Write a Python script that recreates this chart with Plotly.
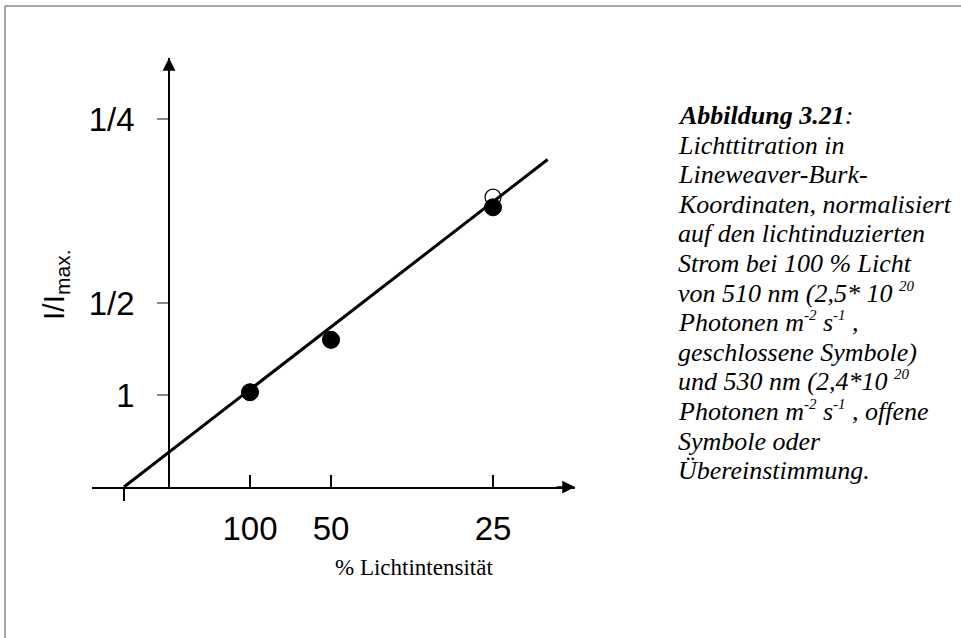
import plotly.graph_objects as go

# ---------------- data ----------------
intensity_pct = [100, 50, 25]                # % Lichtintensität
x_tick_labels = ["100", "50", "25"]
inv_current_closed = [1.03, 1.60, 3.04]     # 1/(I/Imax), 510 nm, closed symbols
inv_current_open = [1.03, 1.60, 3.15]       # 1/(I/Imax), 530 nm, open symbols
y_tick_vals = [1, 2, 4]
y_tick_labels = ["1", "1/2", "1/4"]
fit_x = [-0.556, 4.675]                     # drawn regression line end points
fit_y = [0.0, 3.56]


def sup(t):
    return '<sup><span style="font-size:15px">' + t + '</span></sup>'


caption_lines = [
    "<b><i>Abbildung 3.21</i></b><i>:</i>",
    "<i>Lichttitration in</i>",
    "<i>Lineweaver-Burk-</i>",
    "<i>Koordinaten, normalisiert</i>",
    "<i>auf den lichtinduzierten</i>",
    "<i>Strom bei 100 % Licht</i>",
    "<i>von 510 nm (2,5* 10 " + sup("20") + "</i>",
    "<i>Photonen m" + sup("-2") + " s" + sup("-1") + " ,</i>",
    "<i>geschlossene Symbole)</i>",
    "<i>und 530 nm (2,4*10 " + sup("20") + "</i>",
    "<i>Photonen m" + sup("-2") + " s" + sup("-1") + " , offene</i>",
    "<i>Symbole oder</i>",
    "<i>Übereinstimmung.</i>",
]

# x in Lineweaver-Burk units: 1 / (relative light intensity)
x_vals = [100.0 / p for p in intensity_pct]

# ---------------- layout geometry ----------------
W, H = 961, 638
ML, MR, MT, MB = 92, 386, 58, 151
PW, PH = W - ML - MR, H - MT - MB
X_RANGE = [-0.9506, 5.0123]
Y_RANGE = [0.0, 4.663]
y_axis_pos = (0 - X_RANGE[0]) / (X_RANGE[1] - X_RANGE[0])


def px_to_paper_x(px):
    return (px - ML) / PW


def px_to_paper_y(py):
    return (H - MB - py) / PH


SANS = "Liberation Sans, Arial, sans-serif"
SERIF = "Liberation Serif, Times New Roman, serif"

fig = go.Figure()

fig.add_trace(go.Scatter(
    x=fit_x, y=fit_y, mode="lines",
    line=dict(color="black", width=3),
    showlegend=False, hoverinfo="skip", cliponaxis=False,
))
fig.add_trace(go.Scatter(
    x=x_vals, y=inv_current_open, mode="markers",
    marker=dict(size=16, color="rgba(255,255,255,0)", line=dict(color="black", width=1.2)),
    showlegend=False, cliponaxis=False,
))
fig.add_trace(go.Scatter(
    x=x_vals, y=inv_current_closed, mode="markers",
    marker=dict(size=17, color="black", line=dict(color="black", width=1)),
    showlegend=False, cliponaxis=False,
))

annotations = []
# arrow heads on the axes
annotations.append(dict(x=X_RANGE[1], y=0, xref="x", yref="y", ax=-20, ay=0,
                        text="", showarrow=True, arrowhead=2, arrowsize=1.7,
                        arrowwidth=1.5, arrowcolor="black"))
annotations.append(dict(x=0, y=Y_RANGE[1], xref="x", yref="y", ax=0, ay=20,
                        text="", showarrow=True, arrowhead=2, arrowsize=1.7,
                        arrowwidth=1.5, arrowcolor="black"))
# y axis title
annotations.append(dict(x=px_to_paper_x(55), y=px_to_paper_y(285), xref="paper", yref="paper",
                        text="I/I<sub>max.</sub>", textangle=-90, showarrow=False,
                        xanchor="center", yanchor="middle",
                        font=dict(family=SANS, size=30, color="black")))
# x axis title
annotations.append(dict(x=px_to_paper_x(414), y=px_to_paper_y(567), xref="paper", yref="paper",
                        text="% Lichtintensität", showarrow=False,
                        xanchor="center", yanchor="middle",
                        font=dict(family=SERIF, size=23, color="black")))
# caption
for i, line in enumerate(caption_lines):
    baseline = 125 + i * 29.6
    annotations.append(dict(x=px_to_paper_x(676), y=px_to_paper_y(baseline + 7),
                            xref="paper", yref="paper", text=line, showarrow=False,
                            xanchor="left", yanchor="bottom", align="left",
                            font=dict(family=SERIF, size=26, color="black")))

shapes = [
    dict(type="line", xref="paper", yref="paper",
         x0=px_to_paper_x(5), x1=px_to_paper_x(961), y0=px_to_paper_y(6), y1=px_to_paper_y(6),
         line=dict(color="#888888", width=1.5)),
    dict(type="line", xref="paper", yref="paper",
         x0=px_to_paper_x(5), x1=px_to_paper_x(5), y0=px_to_paper_y(6), y1=px_to_paper_y(638),
         line=dict(color="#888888", width=1.5)),
]

fig.update_layout(
    width=W, height=H,
    margin=dict(l=ML, r=MR, t=MT, b=MB, pad=0),
    paper_bgcolor="white", plot_bgcolor="white",
    showlegend=False,
    xaxis=dict(range=X_RANGE, showgrid=False, zeroline=False,
               showline=True, linecolor="black", linewidth=1.5,
               tickmode="array", tickvals=x_vals, ticktext=x_tick_labels,
               ticks="inside", ticklen=12, tickwidth=1.5, tickcolor="black",
               ticklabelstandoff=12,
               tickfont=dict(family=SANS, size=33, color="black")),
    xaxis2=dict(range=X_RANGE, overlaying="x", anchor="y", side="bottom",
                showgrid=False, zeroline=False, showline=False,
                tickmode="array", tickvals=[fit_x[0]], ticks="outside",
                ticklen=13, tickwidth=1.5, tickcolor="black", showticklabels=False),
    yaxis=dict(range=Y_RANGE, anchor="free", position=y_axis_pos,
               showgrid=False, zeroline=False,
               showline=True, linecolor="black", linewidth=1.5,
               tickmode="array", tickvals=y_tick_vals, ticktext=y_tick_labels,
               ticks="outside", ticklen=11, tickwidth=1.5, tickcolor="#888888",
               ticklabelstandoff=16,
               tickfont=dict(family=SANS, size=33, color="black")),
    annotations=annotations,
    shapes=shapes,
)

# invisible trace to activate xaxis2 (carries the x-intercept tick)
fig.add_trace(go.Scatter(x=[fit_x[0]], y=[0], xaxis="x2", mode="markers",
                         marker=dict(opacity=0), showlegend=False, hoverinfo="skip"))

fig.write_html("out.html")
